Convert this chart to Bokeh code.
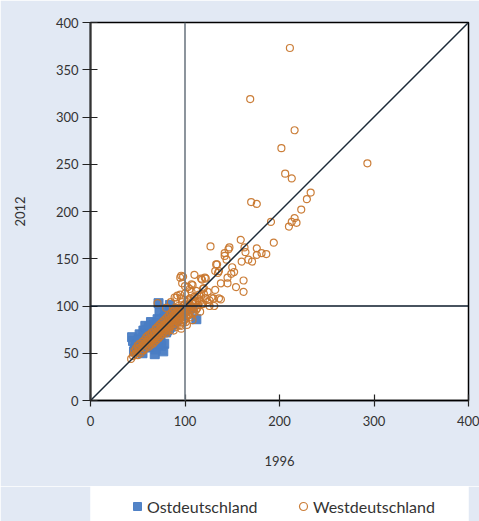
from bokeh.plotting import figure
from bokeh.layouts import column
from bokeh.models import Span, Legend, LegendItem, FixedTicker, Range1d
from bokeh.embed import file_html
from bokeh.resources import INLINE

# ---------------- data ----------------
axis_min, axis_max = 0, 400
ref_value = 100
x_ticks = [0, 100, 200, 300, 400]
y_ticks = [0, 50, 100, 150, 200, 250, 300, 350, 400]
x_label = "1996"
y_label = "2012"
series_names = ["Ostdeutschland", "Westdeutschland"]

ost_x = [72, 84, 112, 44, 48, 47, 57, 68, 75, 64, 73, 79, 45, 50, 53, 55, 58, 60, 62, 63,
         65, 66, 67, 69, 70, 71, 74, 76, 77, 78, 80, 81, 82, 85, 86, 88, 90, 92, 95, 98,
         100, 103, 105, 52, 54, 56, 59, 61, 63, 66, 68, 72, 49, 51, 58, 62, 70, 74, 78, 83,
         87, 91, 94, 97, 60, 65, 69, 73, 77, 81, 46, 55, 71, 108]
ost_y = [103, 101, 86, 67, 58, 55, 72, 49, 58, 83, 93, 97, 63, 60, 53, 66, 56, 75, 78, 61,
         70, 57, 80, 54, 64, 86, 68, 75, 52, 60, 72, 84, 90, 78, 95, 82, 88, 92, 93, 90,
         96, 100, 97, 70, 62, 74, 68, 57, 66, 73, 64, 77, 59, 65, 79, 71, 82, 61, 87, 76,
         81, 84, 96, 94, 68, 60, 71, 66, 79, 74, 52, 50, 59, 98]

west_x = [211, 169, 216, 202, 293, 206, 213, 233, 229, 223, 170, 176, 191, 216, 213, 218, 210, 194,
          176, 181, 186, 176, 164, 159, 127, 147, 146, 163, 142, 142, 144, 134, 160, 167, 171, 150,
          132, 135, 110, 98, 95, 97, 122, 118, 149, 152, 145, 138, 145, 162, 107, 108, 119, 124,
          132, 130, 136, 138, 126, 154, 162, 133, 136, 117, 121, 96,
          43, 45, 46, 47, 48, 49, 50, 51, 52, 53, 54, 55, 55, 50, 52,
          56, 57, 58, 58, 59, 60, 60, 61, 61, 62, 62, 63, 63, 64, 64, 65, 65, 56, 59, 62,
          66, 66, 67, 67, 68, 68, 69, 69, 70, 70, 71, 71, 72, 72, 73, 73, 74, 74, 75, 75,
          66, 68, 70, 72, 74,
          76, 76, 77, 77, 78, 78, 79, 79, 80, 80, 81, 81, 82, 82, 83, 83, 84, 84, 85, 85,
          76, 78, 80, 82, 84, 80, 83,
          86, 86, 87, 87, 88, 88, 89, 89, 90, 90, 91, 91, 92, 92, 93, 93, 94, 94, 95, 95,
          86, 88, 90, 92, 94, 91, 93, 95,
          96, 96, 97, 97, 98, 98, 99, 99, 100, 100, 101, 101, 102, 102, 103, 103, 104, 104, 105, 105,
          96, 98, 100, 102, 104,
          106, 106, 107, 108, 108, 109, 110, 110, 111, 112, 113, 114, 115, 116, 117, 118, 120, 122,
          124, 106, 108, 110,
          89, 92, 96, 100, 91, 95, 107, 112, 120, 115, 126, 128, 131, 85, 80, 71,
          103, 105, 100, 88, 101, 96, 113, 116, 119, 104]
west_y = [373, 319, 286, 267, 251, 240, 235, 220, 213, 202, 210, 208, 189, 193, 189, 188, 184, 167,
          161, 156, 155, 154, 157, 170, 163, 162, 160, 162, 156, 153, 149, 144, 147, 149, 147, 141,
          137, 135, 133, 131, 130, 124, 129, 128, 134, 136, 130, 124, 124, 127, 123, 122, 118, 115,
          117, 108, 108, 107, 100, 120, 115, 144, 137, 129, 130, 132,
          44, 47, 52, 49, 55, 51, 58, 54, 60, 50, 57, 62, 53, 48, 56,
          59, 64, 55, 61, 67, 58, 63, 60, 69, 57, 65, 62, 70, 59, 66, 63, 72, 53, 62, 61,
          60, 68, 65, 73, 62, 70, 67, 76, 64, 72, 69, 78, 66, 74, 71, 80, 68, 76, 73, 82,
          64, 66, 68, 70, 72,
          70, 78, 75, 84, 72, 80, 77, 86, 74, 82, 79, 88, 76, 84, 81, 90, 78, 86, 83, 92,
          74, 76, 78, 80, 82, 71, 74,
          80, 88, 85, 94, 82, 90, 87, 96, 84, 92, 89, 98, 86, 94, 91, 100, 88, 96, 93, 80,
          84, 86, 88, 90, 92, 78, 83, 86,
          90, 98, 95, 104, 92, 100, 97, 85, 94, 102, 99, 88, 96, 104, 100, 91, 98, 106, 94, 102,
          76, 82, 86, 80, 90,
          100, 108, 97, 103, 92, 106, 99, 110, 104, 96, 108, 101, 112, 105, 110, 102, 113, 108,
          104, 88, 85, 93,
          109, 111, 108, 113, 109, 112, 115, 116, 119, 106, 106, 109, 100, 104, 98, 103,
          120, 118, 121, 74, 83, 79, 98, 94, 102, 107]

# ---------------- style ----------------
bg = "#e2e9f4"
ost_color = "#4a7dc4"
west_color = "#c8772e"
font = "Lato"
text_color = "#333333"

p = figure(width=479, height=486, output_backend="svg", toolbar_location=None,
           x_range=Range1d(axis_min, axis_max), y_range=Range1d(axis_min, axis_max),
           min_border_left=89, min_border_top=22, min_border_right=11, min_border_bottom=86)
p.background_fill_color = "white"
p.border_fill_color = bg
p.outline_line_color = "black"
p.outline_line_width = 1.5
p.grid.visible = False

for ax in (p.xaxis[0], p.yaxis[0]):
    ax.major_label_text_font = font
    ax.major_label_text_font_size = "13px"
    ax.major_label_text_color = text_color
    ax.axis_label_text_font = font
    ax.axis_label_text_font_size = "13px"
    ax.axis_label_text_font_style = "normal"
    ax.axis_label_text_color = text_color
    ax.minor_tick_line_color = None

p.xaxis.ticker = FixedTicker(ticks=x_ticks)
p.yaxis.ticker = FixedTicker(ticks=y_ticks)
p.xaxis.axis_label = x_label
p.yaxis.axis_label = y_label

p.xaxis.axis_line_color = "black"
p.xaxis.axis_line_width = 1.5
p.xaxis.major_tick_line_color = "#222222"
p.xaxis.major_tick_line_width = 1.2
p.xaxis.major_tick_in = 6
p.xaxis.major_tick_out = 6
p.xaxis.major_label_standoff = 9
p.xaxis.axis_label_standoff = 27

p.yaxis.axis_line_color = "#333333"
p.yaxis.axis_line_width = 2
p.yaxis.major_tick_line_color = "#222222"
p.yaxis.major_tick_line_width = 1.2
p.yaxis.major_tick_in = 7
p.yaxis.major_tick_out = 8
p.yaxis.major_label_standoff = 4
p.yaxis.axis_label_standoff = 28

# reference lines
p.add_layout(Span(location=ref_value, dimension="height", line_color="#707a84", line_width=1.6))
p.add_layout(Span(location=ref_value, dimension="width", line_color="#0b1a2a", line_width=1.3))

ost_style = dict(marker="square", fill_color=ost_color, line_color=ost_color,
                 fill_alpha=0.95, line_alpha=0.95)
west_style = dict(marker="circle", fill_color=None, line_color=west_color,
                  line_width=1.2, line_alpha=0.95)

p.scatter(ost_x, ost_y, size=9, **ost_style)
p.scatter(west_x, west_y, size=7, **west_style)
p.line([axis_min, axis_max], [axis_min, axis_max], line_color="#1b2a38", line_width=1.5)

# ---------------- legend strip ----------------
# a separate strip whose (tiny) ranges keep the series points out of view,
# so only the legend entries are shown
lg = figure(width=479, height=35, output_backend="svg", toolbar_location=None,
            x_range=Range1d(0, 1), y_range=Range1d(0, 1),
            x_axis_location=None, y_axis_location=None,
            min_border_left=90, min_border_right=7, min_border_top=0, min_border_bottom=0)
lg.grid.visible = False
lg.outline_line_color = None
lg.background_fill_color = "white"
lg.border_fill_color = bg
ost_leg = lg.scatter(ost_x, ost_y, size=9, **ost_style)
west_leg = lg.scatter(west_x, west_y, size=8, **west_style)

legend = Legend(items=[LegendItem(label=series_names[0], renderers=[ost_leg]),
                       LegendItem(label=series_names[1], renderers=[west_leg])],
                orientation="horizontal", location=(37, 5))
legend.label_text_font = font
legend.label_text_font_size = "16px"
legend.label_text_color = text_color
legend.glyph_width = 20
legend.glyph_height = 20
legend.label_height = 20
legend.label_standoff = 0
legend.label_width = 130
legend.spacing = 16
legend.padding = 0
legend.margin = 0
legend.border_line_color = None
legend.background_fill_alpha = 0
lg.add_layout(legend, "center")

layout = column(p, lg, spacing=0)

html = file_html(layout, INLINE)
html = html.replace("<body>", '<body style="background-color:%s">' % bg, 1)
open("out.html", "w").write(html)
